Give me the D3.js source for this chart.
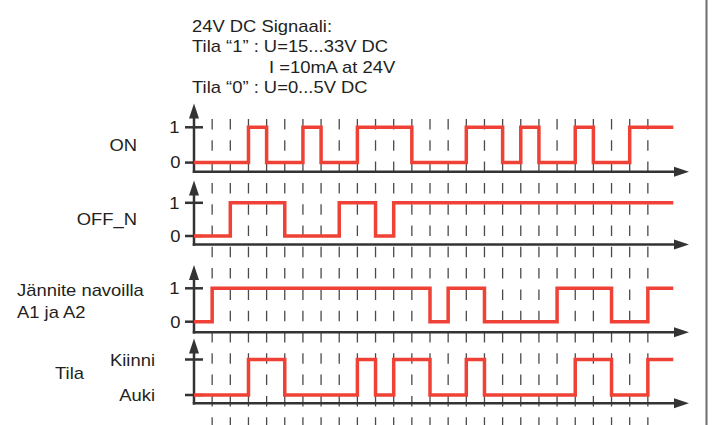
<!DOCTYPE html>
<html>
<head>
<meta charset="utf-8">
<script src="https://cdn.jsdelivr.net/npm/d3@7/dist/d3.min.js"></script>
<style>
  html, body { margin: 0; padding: 0; background: #fff; }
  svg { display: block; }
  text { font-family: "Liberation Sans", Arial, Helvetica, sans-serif; fill: #231f20; }
</style>
</head>
<body>
<svg id="chart" width="713" height="425"></svg>
<script>
// ---- data ----
const headerLines = ["24V DC Signaali:", "Tila \u201C1\u201D : U=15...33V DC", "I =10mA at 24V", "Tila \u201C0\u201D : U=0...5V DC"];
const signalNames = ["ON", "OFF_N", "Jännite navoilla\nA1 ja A2", "Tila"];
const levelLabels = [["0", "1"], ["0", "1"], ["0", "1"], ["Auki", "Kiinni"]];
const gridTimes = d3.range(1, 26);          // dashed time marks
const timeEnd = 26.4;                        // end of the drawn signals
const onSignal      = [0,0,0,1,0,0,1,0,0,1,1,1,0,0,0,1,1,0,1,0,0,1,0,0,1,1,1];
const offNSignal    = [0,0,1,1,1,0,0,0,1,1,0,1,1,1,1,1,1,1,1,1,1,1,1,1,1,1,1];
const voltageSignal = [0,1,1,1,1,1,1,1,1,1,1,1,1,0,1,1,0,0,0,0,1,1,1,0,0,1,1];
const stateSignal   = [0,0,0,1,1,0,0,0,0,1,0,1,1,0,0,1,0,0,0,0,0,1,1,0,0,1,1];
const signals = [onSignal, offNSignal, voltageSignal, stateSignal];

// ---- layout ----
const panels = [
  { tip: 103.5, hi: 127.3, lo: 162.6, base: 171.7 },
  { tip: 180.5, hi: 202.8, lo: 236.0, base: 244.5 },
  { tip: 265.0, hi: 288.3, lo: 321.7, base: 332.3 },
  { tip: 338.5, hi: 359.5, lo: 395.0, base: 403.3 }
];
const axisX = 194, arrowTipX = 689;
const RED = "#ef4136", AX = "#333333";
const SX = 1.15; // horizontal stretch of the lettering

const svg = d3.select("#chart");
const x = d3.scaleLinear().domain([0, 25]).range([axisX, axisX + 18.154 * 25]);

function addText(px, py, str, anchor) {
  svg.append("text")
    .attr("transform", `translate(${px},${py}) scale(${SX},1)`)
    .attr("text-anchor", anchor || "start")
    .style("font-size", "16px")
    .text(str);
}

// right border
svg.append("line").attr("x1", 706.5).attr("x2", 706.5).attr("y1", 0).attr("y2", 425)
  .attr("stroke", "#6d6d6d").attr("stroke-width", 2);

// header
const headerX = [192, 192, 269, 192];
const headerY = [31.5, 52, 72.5, 93];
headerLines.forEach((t, i) => addText(headerX[i], headerY[i], t, "start"));

// dashed grid
svg.append("g").selectAll("line").data(gridTimes).join("line")
  .attr("x1", d => x(d)).attr("x2", d => x(d))
  .attr("y1", 119).attr("y2", 425)
  .attr("stroke", "#4a4a4a").attr("stroke-width", 1.3)
  .attr("stroke-dasharray", "10.5 10.8");

// panels
panels.forEach((p, i) => {
  const y = d3.scaleLinear().domain([0, 1]).range([p.lo, p.hi]);
  const g = svg.append("g");
  // ticks
  [0, 1].forEach(v => {
    g.append("line").attr("x1", 185).attr("x2", 203).attr("y1", y(v)).attr("y2", y(v))
      .attr("stroke", AX).attr("stroke-width", 2.5);
  });
  // vertical axis
  g.append("line").attr("x1", axisX).attr("x2", axisX).attr("y1", p.tip + 10).attr("y2", p.base + 1.25)
    .attr("stroke", AX).attr("stroke-width", 2.5);
  g.append("path").attr("d", `M${axisX},${p.tip} L${axisX - 5},${p.tip + 15} L${axisX + 5},${p.tip + 15} Z`)
    .attr("fill", AX);
  // horizontal axis
  g.append("line").attr("x1", axisX - 1.25).attr("x2", arrowTipX - 10).attr("y1", p.base).attr("y2", p.base)
    .attr("stroke", AX).attr("stroke-width", 2.5);
  g.append("path").attr("d", `M${arrowTipX},${p.base} L${arrowTipX - 15},${p.base - 5} L${arrowTipX - 15},${p.base + 5} Z`)
    .attr("fill", AX);
  // signal
  const vals = signals[i];
  const pts = vals.map((v, k) => [k, v]).concat([[timeEnd, vals[vals.length - 1]]]);
  const line = d3.line().x(d => x(d[0])).y(d => y(d[1])).curve(d3.curveStepAfter);
  g.append("path").attr("d", line(pts)).attr("fill", "none")
    .attr("stroke", RED).attr("stroke-width", 3.5);
  // level labels
  if (i < 3) {
    addText(179.5, y(1) + 5.8, levelLabels[i][1], "end");
    addText(180.5, y(0) + 5.8, levelLabels[i][0], "end");
  } else {
    addText(155, y(1) + 6.5, levelLabels[i][1], "end");
    addText(155, y(0) + 5.8, levelLabels[i][0], "end");
  }
});

// signal names
addText(137, 150.7, signalNames[0], "end");
addText(137, 225, signalNames[1], "end");
const nm = signalNames[2].split("\n");
addText(17, 296, nm[0], "start");
addText(17, 318.3, nm[1], "start");
addText(55, 379.3, signalNames[3], "start");
</script>
</body>
</html>
